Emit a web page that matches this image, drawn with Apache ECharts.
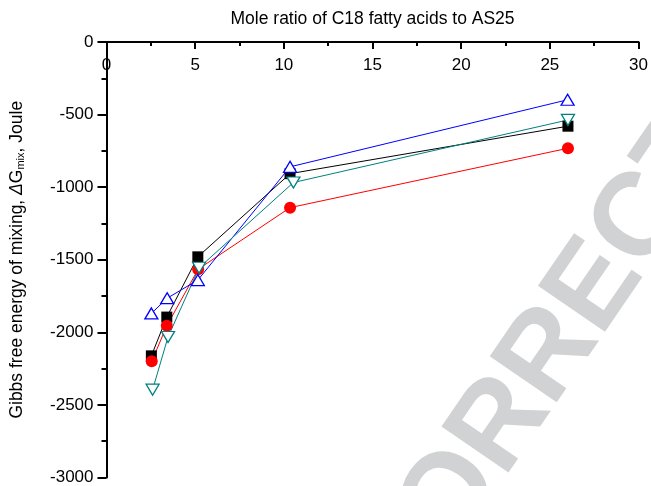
<!DOCTYPE html>
<html>
<head>
<meta charset="utf-8">
<script src="https://cdn.jsdelivr.net/npm/echarts@6/dist/echarts.min.js"></script>
<style>
  html, body { margin: 0; padding: 0; background: #fff; }
  #chart { width: 651px; height: 486px; }
</style>
</head>
<body>
<div id="chart"></div>
<script>
// mole ratio (x) and Gibbs free energy of mixing (y) per series
const xBlack = [2.53, 3.40, 5.15, 10.35, 26.02]
const yBlack = [-2162, -1895, -1480, -907, -580]
const xRed = [2.55, 3.40, 5.17, 10.35, 26.02]
const yRed = [-2200, -1955, -1565, -1141, -732]
const xBlue = [2.53, 3.42, 5.15, 10.35, 26.00]
const yBlue = [-1870, -1765, -1640, -860, -398]
const xTeal = [2.60, 3.47, 5.22, 10.54, 26.02]
const yTeal = [-2395, -2032, -1555, -968, -537]

const font = 'Liberation Sans, Arial, sans-serif'

function pairs(xs, ys) {
  return xs.map((x, i) => [x, ys[i]])
}

const chart = echarts.init(document.getElementById('chart'))

function lineSeries(name, xs, ys, color, symbol, size, hollow, rotate) {
  return {
    name,
    type: 'line',
    data: pairs(xs, ys),
    symbol,
    symbolSize: size,
    symbolRotate: rotate || 0,
    lineStyle: { color, width: 1 },
    itemStyle: hollow
      ? { color: '#fff', borderColor: color, borderWidth: 1.3 }
      : { color, borderWidth: 0 },
    z: 3,
  }
}

chart.setOption({
  backgroundColor: '#fff',
  animation: false,
  graphic: [
    {
      type: 'text',
      x: 668,
      y: 182,
      rotation: 55.6 * Math.PI / 180,
      z: 0,
      silent: true,
      style: {
        text: 'UNCORRECTED PROOF',
        fontFamily: font,
        fontWeight: 'bold',
        fontSize: 118,
        fill: '#d1d2d4',
        align: 'center',
        verticalAlign: 'middle',
      },
    },
  ],
  grid: { left: 106, right: 8, top: 42, bottom: 5, containLabel: false },
  xAxis: {
    type: 'value',
    position: 'top',
    min: 0,
    max: 30,
    interval: 5,
    name: 'Mole ratio of C18 fatty acids to AS25',
    nameLocation: 'middle',
    nameGap: 14,
    nameTextStyle: { color: '#000', fontSize: 17.5, fontFamily: font },
    axisLine: { onZero: false, lineStyle: { color: '#000', width: 2 } },
    axisTick: { inside: true, length: 7, lineStyle: { color: '#000', width: 2 } },
    minorTick: { show: true, splitNumber: 2, length: 4, lineStyle: { color: '#000', width: 2 } },
    axisLabel: { inside: true, margin: 15, color: '#000', fontSize: 17, fontFamily: font },
    splitLine: { show: false },
  },
  yAxis: {
    type: 'value',
    min: -3000,
    max: 0,
    interval: 500,
    name: 'Gibbs free energy of mixing, {d|Δ}G{sub|mix}, Joule',
    nameLocation: 'middle',
    nameGap: 80,
    nameTextStyle: {
      color: '#000',
      fontSize: 17.5,
      fontFamily: font,
      rich: {
        d: { fontSize: 17.5, fontStyle: 'italic', fontFamily: font, color: '#000' },
        sub: { fontSize: 11, fontFamily: font, color: '#000', verticalAlign: 'bottom', padding: [8, 0, 0, 0] },
      },
    },
    axisLine: { onZero: false, lineStyle: { color: '#000', width: 2 } },
    axisTick: { length: 9, lineStyle: { color: '#000', width: 2 } },
    minorTick: { show: true, splitNumber: 2, length: 5, lineStyle: { color: '#000', width: 2 } },
    axisLabel: { margin: 13, color: '#000', fontSize: 17, fontFamily: font, formatter: v => String(v) },
    splitLine: { show: false },
  },
  series: [
    lineSeries('black', xBlack, yBlack, '#000000', 'rect', 11, false),
    lineSeries('red', xRed, yRed, '#ff0000', 'circle', 12, false),
    lineSeries('blue', xBlue, yBlue, '#0000ff', 'triangle', [13, 11], true),
    lineSeries('teal', xTeal, yTeal, '#008080', 'triangle', [13, 11], true, 180),
  ],
})
</script>
</body>
</html>
